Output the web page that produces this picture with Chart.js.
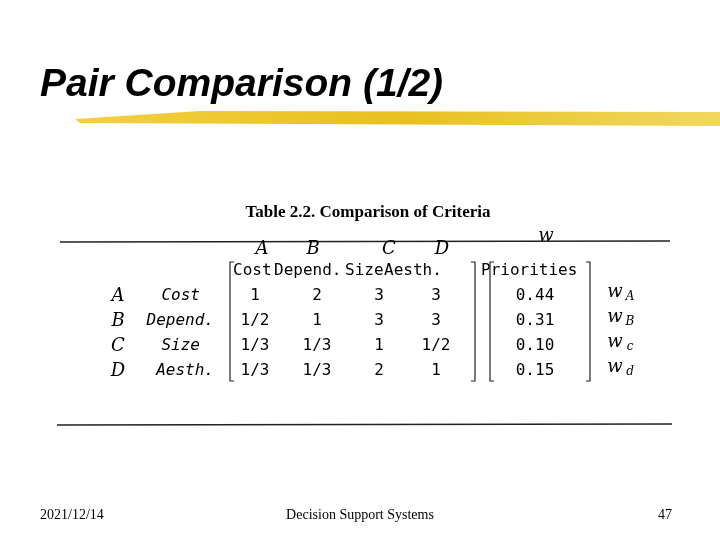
<!DOCTYPE html>
<html><head><meta charset="utf-8">
<script src="https://cdn.jsdelivr.net/npm/chart.js@4/dist/chart.umd.min.js"></script>
<style>html,body{margin:0;background:#fff}#wrap{width:720px;height:540px}</style>
</head><body><div id="wrap"><canvas id="c"></canvas></div>
<script>
// slide content
const criteria = ['Cost', 'Depend.', 'Size', 'Aesth.'];
const letters = ['A', 'B', 'C', 'D'];
const weights = ['A', 'B', 'c', 'd'];
const matrix = [
    ['1', '2', '3', '3'],
    ['1/2', '1', '3', '3'],
    ['1/3', '1/3', '1', '1/2'],
    ['1/3', '1/3', '2', '1']
];
const priorities = [0.44, 0.31, 0.10, 0.15];

// layout in slide pixels
const colX = [255, 317, 379, 436];
const rowY = [296, 321, 346, 371];
const prioX = 535;

const cells = [];
matrix.forEach((row, r) => row.forEach((v, c) => cells.push({ x: colX[c], y: rowY[r], t: v })));
const prioPts = priorities.map((p, r) => ({ x: prioX, y: rowY[r], t: p.toFixed(2) }));

const slidePlugin = {
    id: 'slide',
    beforeDatasetsDraw(chart) {
        const { ctx, scales: { x, y } } = chart;
        const X = v => x.getPixelForValue(v), Y = v => y.getPixelForValue(v);
        ctx.save();
        // brush stroke under title
        const g = ctx.createLinearGradient(X(75), 0, X(720), 0);
        g.addColorStop(0, '#f2d040'); g.addColorStop(0.5, '#e8c020'); g.addColorStop(1, '#f0d860');
        ctx.fillStyle = g;
        ctx.beginPath();
        ctx.moveTo(X(75), Y(119)); ctx.lineTo(X(200), Y(111)); ctx.lineTo(X(720), Y(112));
        ctx.lineTo(X(720), Y(126)); ctx.lineTo(X(300), Y(124)); ctx.lineTo(X(80), Y(123));
        ctx.closePath(); ctx.fill();

        ctx.fillStyle = '#000';
        ctx.font = 'italic bold 39px "Liberation Sans", Arial';
        ctx.textBaseline = 'alphabetic';
        ctx.fillText('Pair Comparison (1/2)', X(40), Y(96));

        ctx.font = 'bold 17px "Liberation Serif", serif';
        ctx.textAlign = 'center';
        ctx.fillText('Table 2.2. Comparison of Criteria', X(368), Y(217));

        ctx.strokeStyle = '#222'; ctx.lineWidth = 1.5;
        ctx.beginPath();
        ctx.moveTo(X(60), Y(242)); ctx.lineTo(X(670), Y(241));
        ctx.moveTo(X(57), Y(425)); ctx.lineTo(X(672), Y(424));
        ctx.stroke();

        // headers
        ctx.font = '16px "DejaVu Sans Mono", monospace';
        ctx.textAlign = 'left'; ctx.textBaseline = 'middle';
        ctx.fillText('Cost', X(233), Y(271));
        ctx.fillText('Depend.', X(274), Y(271));
        ctx.fillText('Size', X(345), Y(271));
        ctx.fillText('Aesth.', X(384), Y(271));
        ctx.fillText('Priorities', X(481), Y(271));
        ctx.font = 'italic 16px "DejaVu Sans Mono", monospace';
        ctx.textAlign = 'right';
        criteria.forEach((c, i) => ctx.fillText(c, X(c === 'Size' || c === 'Cost' ? 200 : 214), Y(rowY[i])));

        // brackets
        ctx.lineWidth = 1.2;
        [[230, 1], [475, -1], [490, 1], [590, -1]].forEach(([bx, d]) => {
            ctx.beginPath();
            ctx.moveTo(X(bx + 4 * d), Y(262)); ctx.lineTo(X(bx), Y(262));
            ctx.lineTo(X(bx), Y(381)); ctx.lineTo(X(bx + 4 * d), Y(381));
            ctx.stroke();
        });

        // handwritten notes
        ctx.font = 'italic 18px "DejaVu Serif", serif';
        ctx.textAlign = 'center';
        letters.forEach((l, i) => ctx.fillText(l, X(118), Y(rowY[i])));
        [[262, 'A'], [313, 'B'], [389, 'C'], [442, 'D']].forEach(([hx, l]) => ctx.fillText(l, X(hx), Y(249)));
        ctx.fillText('w', X(546), Y(236));
        weights.forEach((w, i) => {
            ctx.font = 'italic 18px "DejaVu Serif", serif';
            ctx.fillText('w', X(615), Y(rowY[i] - 4));
            ctx.font = 'italic 12px "DejaVu Serif", serif';
            ctx.fillText(w, X(630), Y(rowY[i] + 1));
        });

        // footer
        ctx.font = '14px "Liberation Serif", serif';
        ctx.textAlign = 'left'; ctx.fillText('2021/12/14', X(40), Y(515));
        ctx.textAlign = 'center'; ctx.fillText('Decision Support Systems', X(360), Y(515));
        ctx.fillText('47', X(665), Y(515));
        ctx.restore();
    },
    afterDatasetsDraw(chart) {
        const { ctx } = chart;
        ctx.save();
        ctx.fillStyle = '#000';
        ctx.font = '16px "DejaVu Sans Mono", monospace';
        ctx.textAlign = 'center'; ctx.textBaseline = 'middle';
        chart.data.datasets.forEach((ds, i) => {
            chart.getDatasetMeta(i).data.forEach((pt, j) => ctx.fillText(ds.data[j].t, pt.x, pt.y));
        });
        ctx.restore();
    }
};

new Chart(document.getElementById('c'), {
    type: 'scatter',
    data: {
        datasets: [
            { label: 'Matrix', data: cells, pointRadius: 0 },
            { label: 'Priorities', data: prioPts, pointRadius: 0 }
        ]
    },
    options: {
        responsive: true,
        maintainAspectRatio: false,
        animation: false,
        layout: { padding: 0 },
        plugins: { legend: { display: false }, tooltip: { enabled: false } },
        scales: {
            x: { type: 'linear', min: 0, max: 720, display: false },
            y: { type: 'linear', min: 0, max: 540, reverse: true, display: false }
        }
    },
    plugins: [slidePlugin]
});
</script>
</body></html>
